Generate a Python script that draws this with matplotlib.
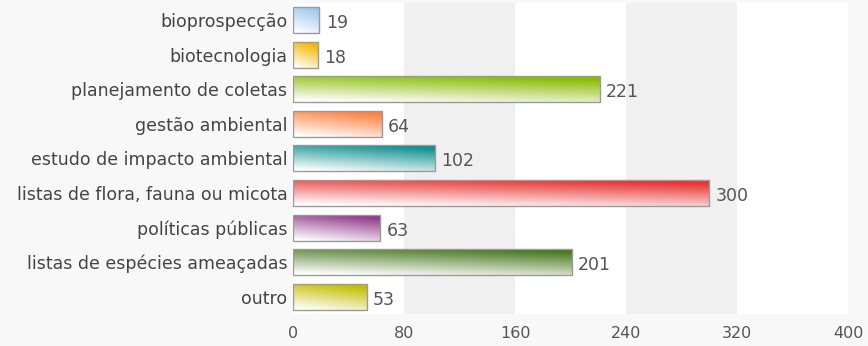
import matplotlib.pyplot as plt
import numpy as np
from matplotlib.colors import to_rgb

# Chart data
categories = [
    "bioprospecção",
    "biotecnologia",
    "planejamento de coletas",
    "gestão ambiental",
    "estudo de impacto ambiental",
    "listas de flora, fauna ou micota",
    "políticas públicas",
    "listas de espécies ameaçadas",
    "outro",
]
counts = [19, 18, 221, 64, 102, 300, 63, 201, 53]
bar_colors = [
    "#9cc8f0", "#f5b400", "#88bb00", "#ff8040", "#0f8f8f",
    "#e83232", "#933a8c", "#4a7a22", "#c4bc00",
]
xticks = [0, 80, 160, 240, 320, 400]

fig = plt.figure(figsize=(8.68, 3.46), dpi=100, facecolor="#f8f8f8")
ax = fig.add_axes([0.3376, 0.0925, 0.6394, 0.8995])
ax.set_facecolor("white")

# alternating background bands
for lo, hi in [(80, 160), (240, 320)]:
    ax.axvspan(lo, hi, color="#f0f0f0", zorder=0, lw=0)

y = np.arange(len(categories))
bar_h = 0.75
bars = ax.barh(y, counts, height=bar_h, color="none", edgecolor="#9a9a9a",
               linewidth=1.0, zorder=3)

# gradient fill: white at bottom-left -> colour at top-right
ny, nx = 40, 200
vv = np.linspace(1, 0, ny)[:, None]  # image row 0 drawn at top (origin upper)
uu = np.linspace(0, 1, nx)[None, :]
for rect, val, col in zip(bars, counts, bar_colors):
    c = np.array(to_rgb(col))
    t = np.clip(0.85 * vv + 0.3 * uu - 0.05, 0, 1)[..., None]
    img = (1 - t) * 1.0 + t * c
    x0, y0 = rect.get_x(), rect.get_y()
    im = ax.imshow(img, extent=(x0, x0 + val, y0 + bar_h, y0), origin="upper",
                   aspect="auto", zorder=2, interpolation="bilinear")
    im.set_clip_path(rect)
    ax.text(val + 4.5, rect.get_y() + bar_h / 2 + 0.09, str(val), va="center",
            ha="left", fontsize=12.5, color="#555555", zorder=4)

ax.set_xlim(0, 400)
ax.set_ylim(len(categories) - 0.5, -0.5)
ax.set_yticks(y)
ax.set_yticklabels(categories, fontsize=12.5, color="#444444")
ax.set_xticks(xticks)
ax.set_xticklabels([str(t) for t in xticks], fontsize=11.5, color="#555555")
ax.tick_params(axis="both", length=0)
ax.tick_params(axis="y", pad=4)
ax.tick_params(axis="x", pad=9)
for s in ax.spines.values():
    s.set_visible(False)

fig.savefig("out.png", dpi=100, facecolor=fig.get_facecolor())
